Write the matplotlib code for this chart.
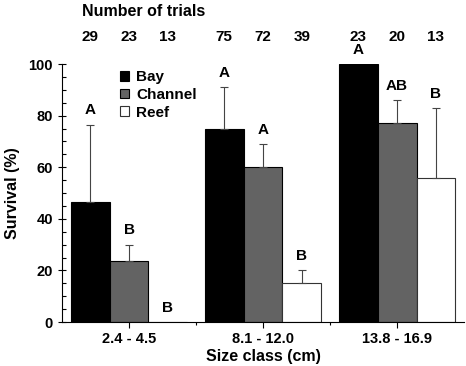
import matplotlib
matplotlib.use("Agg")
import matplotlib.pyplot as plt
import numpy as np

plt.rcParams['font.family'] = ['Liberation Sans', 'DejaVu Sans']
plt.rcParams['font.weight'] = 'bold'

size_classes = ["2.4 - 4.5", "8.1 - 12.0", "13.8 - 16.9"]
habitats = ["Bay", "Channel", "Reef"]
survival = {
    "Bay": [46.5, 75, 100],
    "Channel": [23.5, 60, 77],
    "Reef": [0, 15, 56],
}
errors = {
    "Bay": [30, 16, 0],
    "Channel": [6.5, 9, 9],
    "Reef": [0, 5, 27],
}
letters = {
    "Bay": ["A", "A", "A"],
    "Channel": ["B", "A", "AB"],
    "Reef": ["B", "B", "B"],
}
trials = {
    "Bay": [29, 75, 23],
    "Channel": [23, 72, 20],
    "Reef": [13, 39, 13],
}
colors = {"Bay": "#000000", "Channel": "#636363", "Reef": "#ffffff"}

fig = plt.figure(figsize=(4.66, 3.66), dpi=100)
ax = fig.add_axes([0.133, 0.120, 0.863, 0.705])

x = np.arange(len(size_classes))
w = 0.29
offsets = [-w, 0, w]
for hab, off in zip(habitats, offsets):
    vals = survival[hab]
    errs = errors[hab]
    ax.bar(x + off, vals, w, color=colors[hab], edgecolor='#333333' if hab == 'Reef' else 'black',
           linewidth=0.8, label=hab, zorder=2)
    for xi, v, e, lab, n in zip(x + off, vals, errs, letters[hab], trials[hab]):
        if e > 0:
            ax.errorbar(xi, v, yerr=[[0], [e]], fmt='none', ecolor='#444444',
                        elinewidth=0.8, capsize=3, capthick=0.8, zorder=3)
        top = v + e
        ax.text(xi, top + 2.8, lab, ha='center', va='bottom', fontsize=11, fontweight='bold',
                zorder=4)
        ax.text(xi, 1.105, str(n), transform=ax.get_xaxis_transform(), ha='center',
                va='center', fontsize=11, fontweight='bold', clip_on=False)

fig.text(0.176, 0.968, "Number of trials", fontsize=11.5, fontweight='bold', ha='left', va='center')

ax.set_xlim(-0.5, 2.5)
ax.set_ylim(0, 100)
ax.set_xticks(x)
ax.set_xticklabels(size_classes, fontsize=10.5, fontweight='bold')
ax.set_xticks([0.5, 1.5], minor=True)
ax.set_yticks([0, 20, 40, 60, 80, 100])
ax.set_yticks(np.arange(0, 101, 5), minor=True)
ax.tick_params(axis='y', which='major', direction='inout', length=6, width=0.8, labelsize=10.5)
ax.tick_params(axis='y', which='minor', direction='in', length=3, width=0.8)
ax.tick_params(axis='x', which='major', direction='out', length=4, width=0.8)
ax.tick_params(axis='x', which='minor', direction='out', length=2, width=0.8)
for lbl in ax.get_yticklabels():
    lbl.set_fontweight('bold')
ax.spines['top'].set_visible(False)
ax.spines['right'].set_visible(False)
ax.set_xlabel("Size class (cm)", fontsize=11.5, fontweight='bold', labelpad=2)
ax.set_ylabel("Survival (%)", fontsize=11.5, fontweight='bold', labelpad=6)

leg = ax.legend(loc='upper left', bbox_to_anchor=(0.11, 1.03), frameon=False,
                handlelength=0.6, handleheight=0.6, handletextpad=0.45, labelspacing=0.25,
                prop={'weight': 'bold', 'size': 11})

fig.savefig("out.png", dpi=100)
